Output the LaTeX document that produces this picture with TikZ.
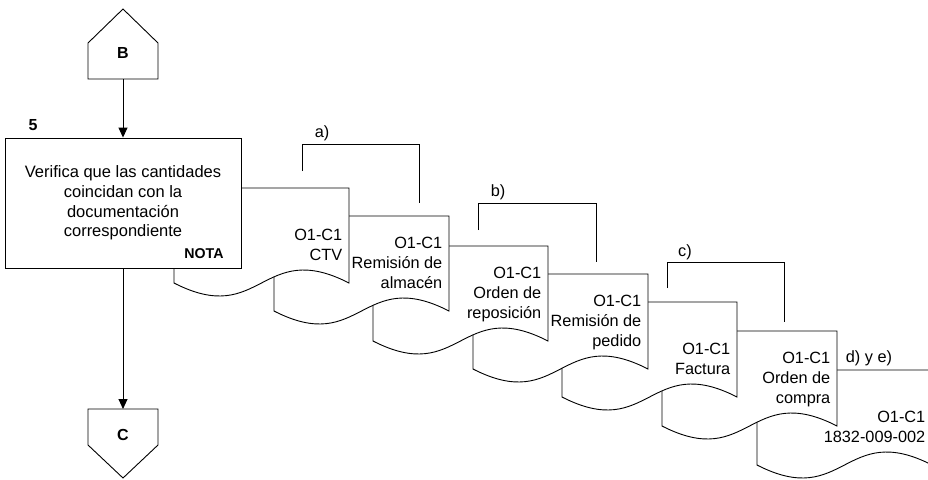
\documentclass[tikz,border=0pt]{standalone}
\usepackage{fontspec}
\setmainfont{Liberation Sans}
\usetikzlibrary{arrows.meta}

\tikzset{
  stroke/.style={line width=0.9pt, draw=black},
  flowarrow/.style={stroke, -{Triangle[length=10pt,width=9pt]}},
  sheet/.style={stroke, fill=white, line join=miter},
  sheettext/.style={anchor=south east, align=right, inner sep=0pt,
                    font=\fontsize{16.3}{20}\selectfont},
  lbl/.style={font=\fontsize{16.3}{20}\selectfont, inner sep=0pt},
  boldlbl/.style={font=\fontsize{16}{19}\selectfont\bfseries, inner sep=0pt},
  notalbl/.style={font=\fontsize{14.2}{17}\selectfont\bfseries, inner sep=0pt},
}

% document sheet with wavy bottom: #1 name, #2 left x, #3 top y, #4 text
\newcommand\docsheet[4]{%
  \path[sheet] (#2,#3) -- (#2+175,#3) -- (#2+175,#3+95)
    .. controls (#2+87.5,#3+50) and (#2+87.5,#3+140) .. (#2,#3+95) -- cycle;
  \node[sheettext] (#1) at (#2+168.5,#3+79) {#4\strut};
}

\begin{document}
\begin{tikzpicture}[x=1pt,y=-1pt]
  \useasboundingbox (0,0) rectangle (928,479);
  \clip (0,0) rectangle (928,479);

  % off-page connector B
  \path[stroke, fill=white] (88,79) -- (88,43) -- (123,9) -- (158,43) -- (158,79) -- cycle;
  \node[boldlbl] (B) at (123,53) {B};
  \coordinate (Bbase) at (123,79);

  % documents, drawn back to front
  \docsheet{d7}{757}{370}{O1-C1\\1832-009-002}
  \docsheet{d6}{662}{331}{O1-C1\\Orden de\\compra}
  \docsheet{d5}{562}{302}{O1-C1\\Factura}
  \docsheet{d4}{473}{274}{O1-C1\\Remisión de\\pedido}
  \docsheet{d3}{373}{246}{O1-C1\\Orden de\\reposición}
  \docsheet{d2}{274}{216}{O1-C1\\Remisión de\\almacén}
  \docsheet{d1}{174}{188}{O1-C1\\CTV}

  % activity box
  \node[stroke, fill=white, minimum width=236pt, minimum height=130pt,
        align=center, font=\fontsize{16.5}{19.7}\selectfont] (act) at (123,203)
    {Verifica que las cantidades\\coincidan con la\\documentación\\correspondiente};
  \node[boldlbl] (num) at (33,125) {5};
  \node[notalbl] (nota) at (204,254) {NOTA};

  % off-page connector C
  \path[stroke, fill=white] (88,409) -- (158,409) -- (158,445) -- (123,478) -- (88,445) -- cycle;
  \node[boldlbl] (C) at (123,435) {C};
  \coordinate (Ctop) at (123,409);

  % flow
  \draw[flowarrow] (Bbase) -- (act.north);
  \draw[flowarrow] (act.south) -- (Ctop);

  % brackets
  \coordinate (aL) at (302,171); \coordinate (aR) at (419,203);
  \coordinate (bL) at (478,230); \coordinate (bR) at (596,262);
  \coordinate (cL) at (667,288); \coordinate (cR) at (784,322);
  \draw[stroke] (aL) -- ++(0,-27) -| (aR);
  \draw[stroke] (bL) -- ++(0,-27) -| (bR);
  \draw[stroke] (cL) -- ++(0,-26) -| (cR);
  \node[lbl] (la) at (322,133) {a)};
  \node[lbl] (lb) at (498,192) {b)};
  \node[lbl] (lc) at (685,252) {c)};
  \node[lbl] (lde) at (869,358) {d) y e)};
\end{tikzpicture}
\end{document}
